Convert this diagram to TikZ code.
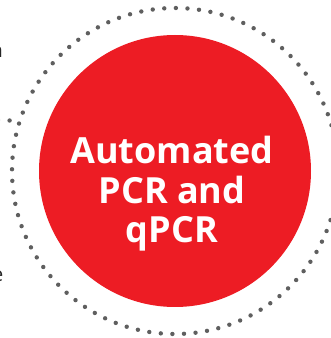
\documentclass[tikz,border=0pt]{standalone}
\usepackage{fontspec}
\setmainfont{Open Sans}
\definecolor{pcrred}{HTML}{ED1C24}
\definecolor{dotgray}{HTML}{5F5F5F}
\tikzset{
  dotline/.style={draw=dotgray, line width=4.4pt, line cap=round, dash pattern=on 0pt off 11.6pt},
  hub/.style={circle, fill=pcrred, minimum size=272pt, inner sep=0pt},
  hubtext/.style={text=white, inner sep=0pt, align=center,
    font=\fontsize{36}{39.5}\selectfont\bfseries},
  cut/.style={inner sep=0pt, text=black!85, font=\fontsize{20}{22}\selectfont}
}
\begin{document}
\begin{tikzpicture}[x=1pt,y=1pt]
    \useasboundingbox (0,0) rectangle (331,338);

    % dotted ring round the hub
    \draw[dotline] (175,167) circle (163);

    % dotted lead from the left
    \coordinate (leadin) at (-2,218);
    \coordinate (leadend) at (20,217);
    \draw[dotline] (leadin) -- (leadend);

    % hub
    \node[hub] (hub) at (175,167) {};
    \node[hubtext] (title) at (172,144) {Automated\\PCR and\\qPCR};

    % cut-off text at the left edge
    \node[cut, anchor=east] (txtn) at (3.2,286) {n};
    \node[cut, anchor=east] (txte) at (3.6,62) {e};

\end{tikzpicture}
\end{document}
